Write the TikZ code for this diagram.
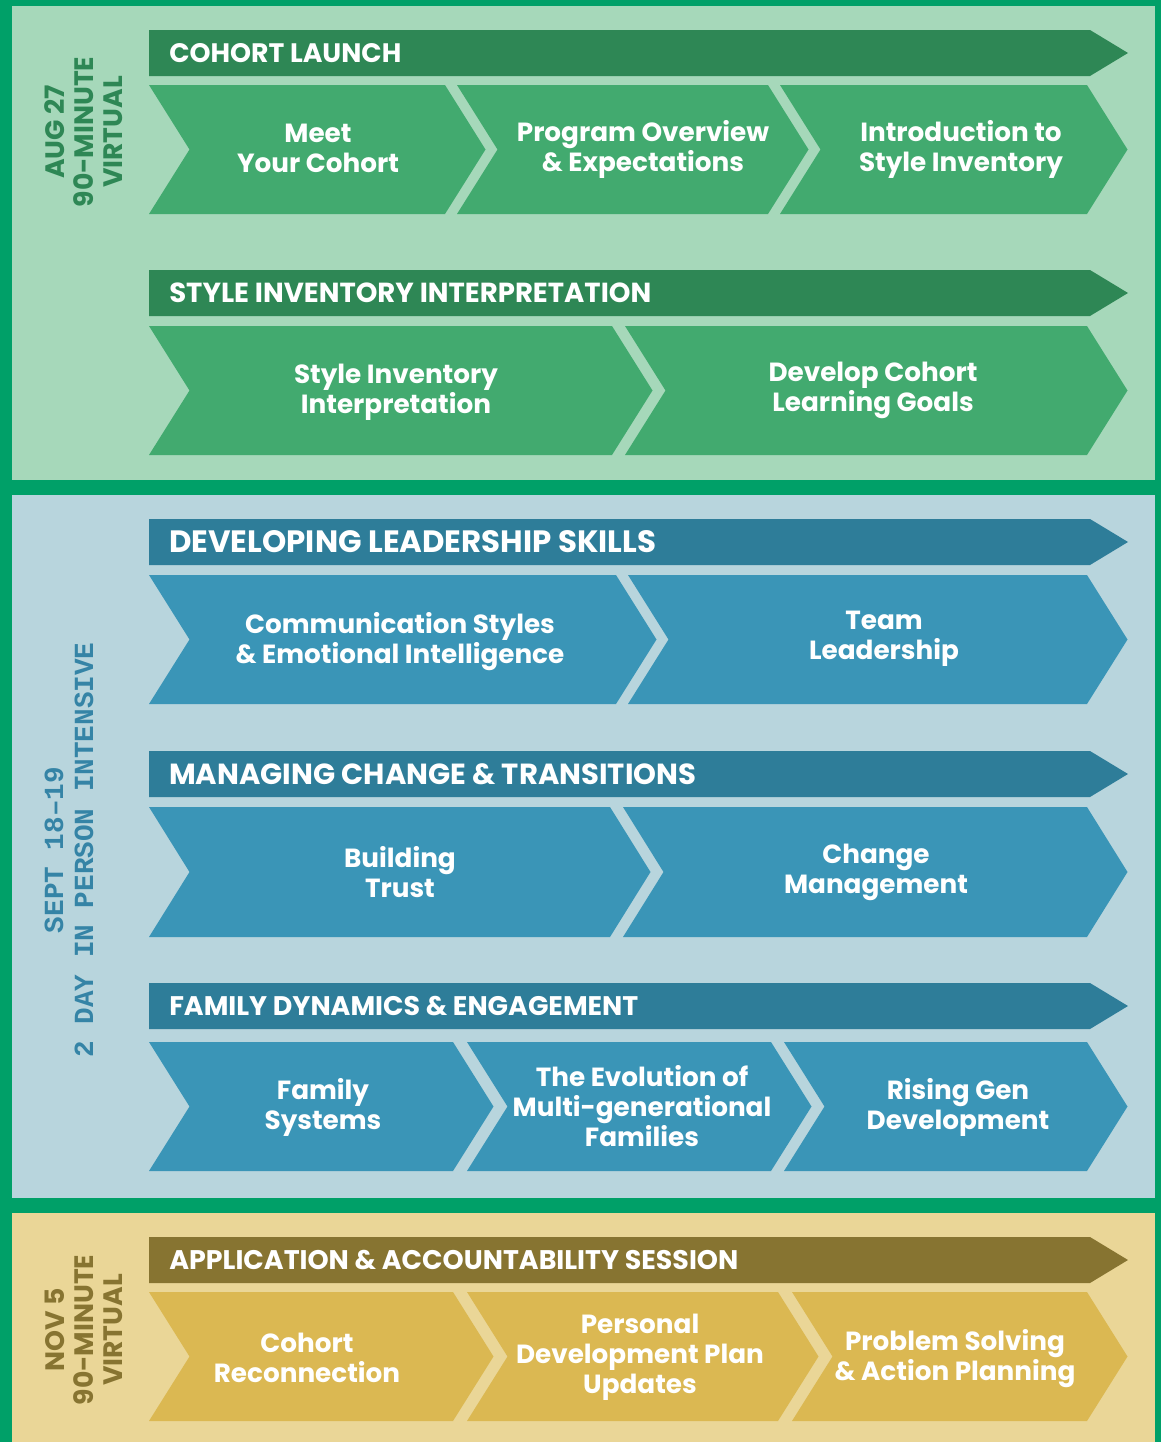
\documentclass[tikz,border=0pt]{standalone}
\usepackage{fontspec}
\usepackage{graphicx}
\setmainfont{Poppins}
\newfontfamily\monob{Liberation Mono}
\newdimen\px \px=0.75pt
\definecolor{bggreen}{HTML}{00A068}
\definecolor{pgreen}{HTML}{A6D8BA}
\definecolor{hgreen}{HTML}{2E8755}
\definecolor{cgreen}{HTML}{42AA6F}
\definecolor{pblue}{HTML}{B8D5DD}
\definecolor{hblue}{HTML}{2E7D99}
\definecolor{cblue}{HTML}{3A95B7}
\definecolor{tblue}{HTML}{3584A6}
\definecolor{pyellow}{HTML}{EAD697}
\definecolor{holive}{HTML}{877431}
\definecolor{cyellow}{HTML}{DBB852}
\tikzset{
  ctext/.style={text=white, align=center, inner sep=0pt,
    font=\bfseries\fontsize{19.7}{22.5}\selectfont},
  htext/.style={text=white, anchor=west, inner sep=0pt},
  vtext/.style={rotate=90, align=center, inner sep=0pt,
    font=\bfseries\fontsize{20}{21.75}\selectfont},
  monotext/.style={rotate=90, align=center, inner sep=0pt,
    font=\monob\bfseries\fontsize{20.75}{22.5}\selectfont},
}
% chevron: xl, xr, ytop, ybot, colour
\newcommand\chevshape[5]{%
  \fill[#5] (#1,#3) -- (#2,#3) -- ({#2+40.5},{(#3+#4)/2}) -- (#2,#4) -- (#1,#4) -- ({#1+40.5},{(#3+#4)/2}) -- cycle;}
% header: ytop, ybot, colour, name, width(px), text
\newcommand\hdrbar[6]{%
  \fill[#3] (149,#1) -- (1090,#1) -- (1128,{(#1+#2)/2}) -- (1090,#2) -- (149,#2) -- cycle;
  \node[htext] (#4) at (169,{(#1+#2)/2}) {\resizebox{#5\px}{!}{\bfseries #6}};}
\begin{document}
\begin{tikzpicture}[x=0.75pt,y=-0.75pt]
\useasboundingbox (0,0) rectangle (1161,1442);
\fill[bggreen] (0,0) rectangle (1161,1442);
% panels
\fill[pgreen] (12,6) rectangle (1155,480);
\fill[pblue] (12,495) rectangle (1155,1198);
\fill[pyellow] (12,1213) rectangle (1155,1442);

% ---------- panel 1 ----------
\node[vtext, text=hgreen] (p1) at (84,132) {AUG 27\\90-MINUTE\\VIRTUAL};
\hdrbar{30}{76}{hgreen}{h1}{232}{COHORT LAUNCH}
\chevshape{149}{445}{85}{214}{cgreen}
\chevshape{457}{768}{85}{214}{cgreen}
\chevshape{780}{1087}{85}{214}{cgreen}
\node[ctext] (c11) at (318,148) {Meet\\Your Cohort};
\node[ctext] (c12) at (643,149) {Program Overview\\\& Expectations};
\node[ctext] (c13) at (961,149) {Introduction to\\Style Inventory};

\hdrbar{270}{316}{hgreen}{h2}{482}{STYLE INVENTORY INTERPRETATION}
\chevshape{149}{612}{326}{455}{cgreen}
\chevshape{625}{1087}{326}{455}{cgreen}
\node[ctext] (c21) at (396,392) {Style Inventory\\Interpretation};
\node[ctext] (c22) at (873,390) {Develop Cohort\\Learning Goals};

% ---------- panel 2 ----------
\node[monotext, text=tblue] (p2) at (69,850) {SEPT 18–19\\2 DAY IN PERSON INTENSIVE};
\hdrbar{519}{565}{hblue}{h3}{487}{DEVELOPING LEADERSHIP SKILLS}
\chevshape{149}{616}{575}{704}{cblue}
\chevshape{628}{1087}{575}{704}{cblue}
\node[ctext] (c31) at (400,642) {Communication Styles\\\& Emotional Intelligence};
\node[ctext] (c32) at (884,639) {Team\\Leadership};

\hdrbar{751}{797}{hblue}{h4}{527}{MANAGING CHANGE \& TRANSITIONS}
\chevshape{149}{610}{807}{937}{cblue}
\chevshape{623}{1087}{807}{937}{cblue}
\node[ctext] (c41) at (400,872) {Building\\Trust};
\node[ctext] (c42) at (876,872) {Change\\Management};

\hdrbar{983}{1029}{hblue}{h5}{469}{FAMILY DYNAMICS \& ENGAGEMENT}
\chevshape{149}{453}{1042}{1171}{cblue}
\chevshape{467}{771}{1042}{1171}{cblue}
\chevshape{784}{1087}{1042}{1171}{cblue}
\node[ctext] (c51) at (323,1107) {Family\\Systems};
\node[ctext] (c52) at (642,1106) {The Evolution of\\Multi-generational\\Families};
\node[ctext] (c53) at (958,1107) {Rising Gen\\Development};

% ---------- panel 3 ----------
\node[vtext, text=holive] (p3) at (84,1330) {NOV 5\\90-MINUTE\\VIRTUAL};
\hdrbar{1237}{1283}{holive}{h6}{569}{APPLICATION \& ACCOUNTABILITY SESSION}
\chevshape{149}{453}{1292}{1421}{cyellow}
\chevshape{467}{778}{1292}{1421}{cyellow}
\chevshape{792}{1087}{1292}{1421}{cyellow}
\node[ctext] (c61) at (307,1358) {Cohort\\Reconnection};
\node[ctext] (c62) at (640,1357) {Personal\\Development Plan\\Updates};
\node[ctext] (c63) at (955,1359) {Problem Solving\\\& Action Planning};
\end{tikzpicture}
\end{document}
